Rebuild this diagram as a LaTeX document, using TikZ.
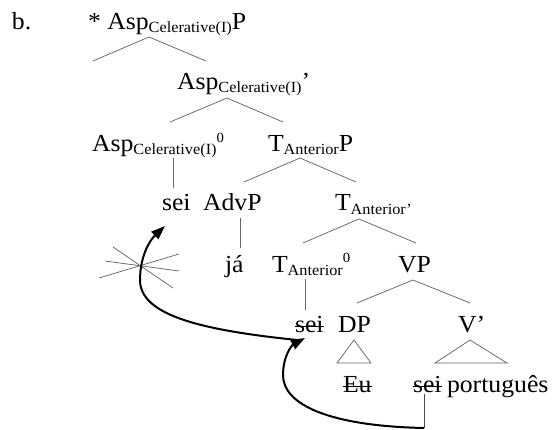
\documentclass[tikz,border=0pt]{standalone}
\usepackage{fontspec}
\setmainfont{Liberation Serif}[FakeStretch=1.05]
\usetikzlibrary{arrows.meta}
\newcommand\mainsz{\fontsize{24.5}{27}\selectfont}
\newcommand\subsz{\fontsize{15.5}{17}\selectfont}
\newcommand\supsz{\fontsize{14}{15}\selectfont}
\newcommand\sbs[1]{\raisebox{-3pt}{\subsz #1}}
\newcommand\sps[1]{\raisebox{9.5pt}{\supsz #1}}
\newsavebox\strkbox
\newcommand\strk[1]{\sbox\strkbox{#1}\rlap{\rule[0.22em]{\wd\strkbox}{0.9pt}}\usebox\strkbox}
\tikzset{
  lbl/.style={anchor=base west, inner sep=0pt, outer sep=0pt, font=\mainsz},
  branch/.style={draw=black!60, line width=0.75pt},
  move/.style={draw=black, line width=2pt, -{Triangle[length=14pt,width=10pt]}},
  starline/.style={draw=black!60, line width=0.75pt},
}
\begin{document}
\begin{tikzpicture}[x=1pt,y=-1pt]
\useasboundingbox (0,0) rectangle (553,430);
% labels
\node[lbl] (b) at (12,30) {b.};
\node[lbl] (n1) at (88,30) {* Asp\sbs{Celerative(I)}P};
\node[lbl] (n2) at (177,90) {Asp\sbs{Celerative(I)}’};
\node[lbl] (n3) at (92,152) {Asp\sbs{Celerative(I)}\sps{0}};
\node[lbl] (n4) at (268,152) {T\sbs{Anterior}P};
\node[lbl] (n5) at (162,210) {sei};
\node[lbl] (n6) at (203,210) {AdvP};
\node[lbl] (n7) at (335,211) {T\sbs{Anterior'}};
\node[lbl] (n8) at (225,272) {já};
\node[lbl] (n9) at (272,272) {T\sbs{Anterior}\sps{0}};
\node[lbl] (n10) at (398,272) {VP};
\node[lbl] (n11) at (295,332) {\strk{sei}};
\node[lbl] (n12) at (338,332) {DP};
\node[lbl] (n13) at (458,332) {V’};
\node[lbl] (n14) at (343,392) {\strk{Eu}};
\node[lbl] (n15) at (413,392) {\strk{sei}};
\node[lbl] (n16) at (447,392) {português};
% branch points
\coordinate (a1) at (149,37);  \coordinate (a1l) at (93,61);  \coordinate (a1r) at (206,61);
\coordinate (a2) at (227,98);  \coordinate (a2l) at (170,122); \coordinate (a2r) at (283,122);
\coordinate (a3t) at (173,158); \coordinate (a3b) at (173,188);
\coordinate (a4) at (300,158); \coordinate (a4l) at (244,182); \coordinate (a4r) at (356,182);
\coordinate (a5t) at (240,218); \coordinate (a5b) at (240,248);
\coordinate (a6) at (359,219); \coordinate (a6l) at (303,243); \coordinate (a6r) at (416,243);
\coordinate (a7t) at (305,279); \coordinate (a7b) at (305,310);
\coordinate (a8) at (413,280); \coordinate (a8l) at (357,303); \coordinate (a8r) at (470,303);
\draw[branch] (a1l) -- (a1) -- (a1r);
\draw[branch] (a2l) -- (a2) -- (a2r);
\draw[branch] (a3t) -- (a3b);
\draw[branch] (a4l) -- (a4) -- (a4r);
\draw[branch] (a5t) -- (a5b);
\draw[branch] (a6l) -- (a6) -- (a6r);
\draw[branch] (a7t) -- (a7b);
\draw[branch] (a8l) -- (a8) -- (a8r);
% triangles
\draw[branch] (354,340) -- (337,363) -- (371,363) -- cycle;
\draw[branch] (470,340) -- (435,363) -- (507,363) -- cycle;
% star (blocked movement)
\coordinate (st) at (142,266);
\draw[starline] (113,247) -- (173,288);
\draw[starline] (105,261) -- (179,271);
\draw[starline] (99,278) -- (179,254);
% movement arrows
\coordinate (t0) at (424,394);
\coordinate (t1) at (424,428);
\coordinate (h1) at (305,338);
\coordinate (s1) at (297,340);
\coordinate (h2) at (165,226);
\draw[draw=black!70, line width=0.75pt] (t0) -- (t1);
\draw[move] (t1) .. controls (330,426) and (283,405) .. (283,375) .. controls (283,356) and (292,345) .. (h1);
\draw[move] (s1) .. controls (200,330) and (140,315) .. (140,280) .. controls (140,256) and (150,240) .. (h2);
\end{tikzpicture}
\end{document}
